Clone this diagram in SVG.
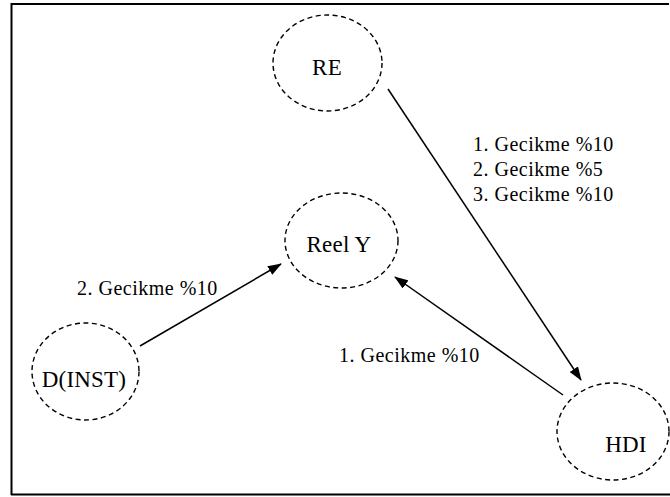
<svg xmlns="http://www.w3.org/2000/svg" width="670" height="497" viewBox="0 0 670 497">
<defs>
<marker id="ah" markerWidth="14" markerHeight="10" refX="13" refY="5" orient="auto" markerUnits="userSpaceOnUse">
<path d="M0,0 L14,5 L0,10 Z" fill="#000"/>
</marker>
</defs>
<style>
.node ellipse{fill:none;stroke:#000;stroke-width:1.4;stroke-dasharray:5 3.5}
.nl{font-family:"Liberation Serif","Times New Roman",serif;font-size:23px;fill:#000;text-anchor:middle;letter-spacing:0.2px}
.el{font-family:"Liberation Serif","Times New Roman",serif;font-size:20px;fill:#000;letter-spacing:0.5px}
.conn line{stroke:#000;stroke-width:1.5;marker-end:url(#ah)}
</style>
<rect x="0" y="0" width="670" height="497" fill="#fff"/>
<path d="M11.5,495 L11.5,4 L669,4" fill="none" stroke="#000" stroke-width="2"/>
<line x1="11" y1="494.5" x2="670" y2="494.5" stroke="#000" stroke-width="2"/>
<g id="RE" class="node"><ellipse cx="327.5" cy="63" rx="54.5" ry="48"/><text class="nl" x="327" y="75">RE</text></g>
<g id="ReelY" class="node"><ellipse cx="341.5" cy="240.5" rx="56.5" ry="47.5"/><text class="nl" x="339" y="252">Reel Y</text></g>
<g id="DINST" class="node"><ellipse cx="85.5" cy="371.5" rx="53.5" ry="48.5"/><text class="nl" x="84" y="387">D(INST)</text></g>
<g id="HDI" class="node"><ellipse cx="613" cy="431.5" rx="56" ry="48.5"/><text class="nl" x="626" y="452">HDI</text></g>
<g id="connectors" class="conn">
<line x1="388" y1="89" x2="581" y2="380"/>
<line x1="563" y1="395" x2="395" y2="277"/>
<line x1="140" y1="346" x2="281" y2="264"/>
</g>
<g id="labels">
<text class="el" x="473" y="151">1. Gecikme %10</text>
<text class="el" x="473" y="176">2. Gecikme %5</text>
<text class="el" x="473" y="201">3. Gecikme %10</text>
<text class="el" x="77" y="295">2. Gecikme %10</text>
<text class="el" x="339" y="362">1. Gecikme %10</text>
</g>
</svg>
